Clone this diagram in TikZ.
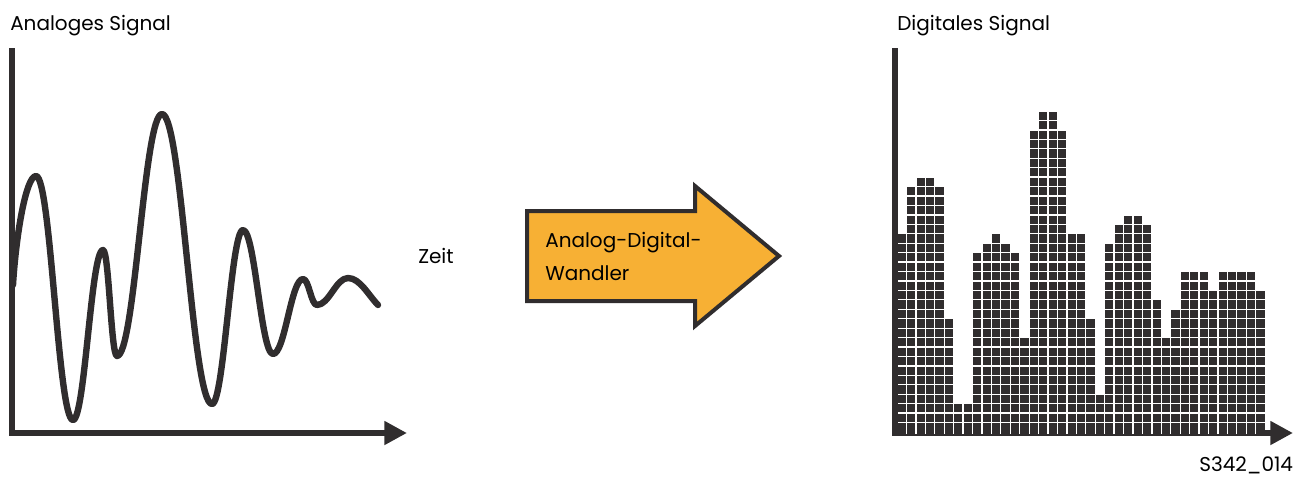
\documentclass[tikz,border=0pt]{standalone}
\usepackage{fontspec}
\setmainfont{Poppins}
\usepackage{tikz}
\usetikzlibrary{positioning,arrows.meta}
\definecolor{ink}{RGB}{48,45,46}
\definecolor{adcfill}{RGB}{247,176,52}
\tikzset{
	axisline/.style={draw=ink,line width=4.5pt,-{Triangle[length=17pt,width=17pt]}},
	wave/.style={draw=ink,line width=4.8pt,line cap=round,line join=round},
	cell/.style={fill=ink},
	gap/.style={draw=white,line width=0.95pt},
	adc/.style={draw=ink,fill=adcfill,line width=3pt,line join=miter},
	lab/.style={inner sep=0pt,anchor=base west,font=\fontsize{15pt}{18pt}\selectfont,text=black}
}

\begin{document}
\begin{tikzpicture}[x=0.75pt,y=-0.75pt]
\useasboundingbox (0,0) rectangle (1311,479);
% titles
\node[lab] (analogTitle) at (10,30) {Analoges Signal};
\node[lab] (digitalTitle) at (897,30) {Digitales Signal};
\node[lab] (zeit) at (418,263) {Zeit};
\node[lab] (figId) at (1199,471) {S342\_014};

% analog axes
\coordinate (aTop) at (12,48);
\coordinate (aOrigin) at (12,433);
\coordinate (aEnd) at (407,433);
\draw[axisline] (aTop) -- (aOrigin) -- (aEnd);

% analog signal
\draw[wave] (13,285) .. controls (16,235) and (26,176) .. (36,176)
  .. controls (51,176) and (58,420) .. (73,420)
  .. controls (85,420) and (91,250) .. (103,250)
  .. controls (109,250) and (111,356) .. (117,356)
  .. controls (135,356) and (144,114) .. (162,114)
  .. controls (182,114) and (192,404) .. (212,404)
  .. controls (224,404) and (231,230) .. (243,230)
  .. controls (255,230) and (261,354) .. (273,354)
  .. controls (285,354) and (291,279) .. (303,279)
  .. controls (309,279) and (311,305) .. (317,305)
  .. controls (329,305) and (336,278) .. (348,278)
  .. controls (360,278) and (369,296) .. (378,305);

% converter
\draw[adc] (527,211) -- (695,211) -- (695,186) -- (779,256) -- (695,326)
  -- (695,301) -- (527,301) -- cycle;
\node[lab] (adcTop) at (545,247) {Analog-Digital-};
\node[lab] (adcBottom) at (545,280) {Wandler};

% digital axes
\coordinate (dTop) at (895,48);
\coordinate (dOrigin) at (895,433);
\coordinate (dEnd) at (1293,433);
\draw[axisline] (dTop) -- (dOrigin) -- (dEnd);

% digital signal, one bar per sample
\foreach \h [count=\i from 0] in {21,26,27,27,26,12,3,3,19,20,21,20,19,10,32,34,34,32,21,21,12,4,20,22,23,23,22,14,10,13,17,17,17,15,17,17,17,17,15}
  \fill[cell] ({897+\i*9.44},432) rectangle ({897+(\i+1)*9.44},{432-\h*9.44});
\foreach \i in {1,...,38}
  \draw[gap] ({897+\i*9.44},434) -- ++(0,-330);
\foreach \j in {1,...,34}
  \draw[gap] (898,{432-\j*9.44}) -- ++(367,0);
\end{tikzpicture}
\end{document}
